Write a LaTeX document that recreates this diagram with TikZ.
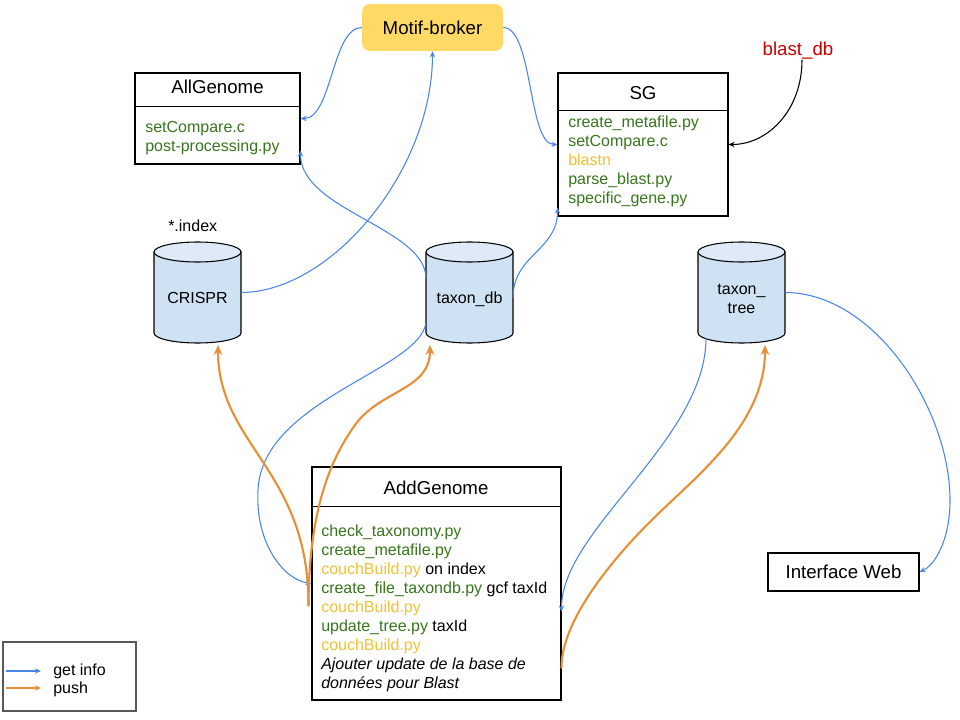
\documentclass[tikz,border=0pt]{standalone}
\usepackage{fontspec}
\setmainfont{Liberation Sans}
\usetikzlibrary{arrows.meta,calc}
\definecolor{infoblue}{HTML}{4A86E8}
\definecolor{pushorange}{HTML}{E69138}
\definecolor{codegreen}{HTML}{38761D}
\definecolor{buildyellow}{HTML}{F1C232}
\definecolor{dbred}{HTML}{CC0000}
\definecolor{mbyellow}{HTML}{FFD966}
\definecolor{cylbody}{HTML}{CFE2F3}
\definecolor{cyltop}{HTML}{DEEAF7}
\definecolor{legendgray}{HTML}{595959}
\tikzset{
  umlbox/.style={draw=black, line width=0.8pt, inner sep=0pt},
  divline/.style={draw=black, line width=0.8pt},
  lbl/.style={inner sep=0pt, font=\fontsize{12}{14.25}\selectfont},
  ttl/.style={inner sep=0pt, font=\fontsize{14}{16.8}\selectfont},
  cylnode/.style={inner sep=0pt, outer sep=0pt, minimum width=65.25pt, minimum height=75.75pt},
  getinfo/.style={draw=infoblue, line width=0.8pt, -{Stealth[length=4.5pt,width=4pt]}},
  pushline/.style={draw=pushorange, line width=1.6pt, line cap=round, -{Stealth[length=7.5pt,width=6.5pt,inset=2.5pt]}},
  pushthin/.style={draw=pushorange, line width=0.8pt, -{Stealth[length=4.5pt,width=4pt]}},
  blastarrow/.style={draw=black, line width=0.8pt, -{Stealth[length=4.5pt,width=4pt]}},
  dbcyl/.pic={
    \fill[cylbody] (0,10) -- (0,91) .. controls (0,96.52) and (19.47,101) .. (43.5,101) .. controls (67.53,101) and (87,96.52) .. (87,91) -- (87,10) -- cycle;
    \draw[line width=0.8pt] (0,10) -- (0,91) .. controls (0,96.52) and (19.47,101) .. (43.5,101) .. controls (67.53,101) and (87,96.52) .. (87,91) -- (87,10);
    \draw[line width=0.8pt, fill=cyltop] (43.5,10) ellipse [x radius=43.5, y radius=10];
  }
}
\begin{document}
\begin{tikzpicture}[x=0.75pt,y=-0.75pt]
\useasboundingbox (0,0) rectangle (960,720);
\fill[white] (0,0) rectangle (960,720);

% Motif-broker
\node[fill=mbyellow, rounded corners=6pt, minimum width=105.75pt, minimum height=35.25pt, inner sep=0pt, font=\fontsize{14}{16.8}\selectfont] (mb) at (432.5,27.5) {Motif-broker};

% AllGenome
\node[umlbox, minimum width=123.75pt, minimum height=68.25pt] (ag) at (217.5,118.5) {};
\draw[divline] ($(ag.north west)+(0,34)$) -- ($(ag.north east)+(0,34)$);
\node[ttl, anchor=base] (agt) at (217.5,94) {AllGenome};
\node[lbl, anchor=base west, text=codegreen] (ag1) at (145,133) {setCompare.c};
\node[lbl, anchor=base west, text=codegreen] (ag2) at (145,152) {post-processing.py};

% SG
\node[umlbox, minimum width=127.5pt, minimum height=107.25pt] (sg) at (643,144.5) {};
\draw[divline] ($(sg.north west)+(0,38)$) -- ($(sg.north east)+(0,38)$);
\node[ttl, anchor=base] (sgt) at (643,99.5) {SG};
\node[lbl, anchor=base west, text=codegreen] (sg1) at (568,128) {create\_metafile.py};
\node[lbl, anchor=base west, text=codegreen] (sg2) at (568,147) {setCompare.c};
\node[lbl, anchor=base west, text=buildyellow] (sg3) at (568,166) {blastn};
\node[lbl, anchor=base west, text=codegreen] (sg4) at (568,185) {parse\_blast.py};
\node[lbl, anchor=base west, text=codegreen] (sg5) at (568,204) {specific\_gene.py};

% blast_db
\node[ttl, anchor=base, text=dbred] (blast) at (798,56) {blast\_db};

% cylinders
\pic at (154,242) {dbcyl};
\pic at (426,242) {dbcyl};
\pic at (698,242) {dbcyl};
\node[cylnode] (crispr) at (197.5,292.5) {};
\node[cylnode] (tdb) at (469.5,292.5) {};
\node[cylnode] (ttree) at (741.5,292.5) {};
\node[lbl, anchor=base] (crisprt) at (197.5,304) {CRISPR};
\node[lbl, anchor=base west] (idx) at (168,232) {*.index};
\node[lbl, anchor=base] (tdbt) at (469.5,304) {taxon\_db};
\node[lbl, anchor=base] (ttreet1) at (741.5,295) {taxon\_};
\node[lbl, anchor=base] (ttreet2) at (741.5,313) {tree};

% AddGenome
\node[umlbox, minimum width=186.75pt, minimum height=174.75pt] (addg) at (436.5,583.5) {};
\draw[divline] ($(addg.north west)+(0,40)$) -- ($(addg.north east)+(0,40)$);
\node[ttl, anchor=base] (addgt) at (436,494) {AddGenome};
\node[lbl, anchor=base west, text=codegreen] (ad1) at (321,536) {check\_taxonomy.py};
\node[lbl, anchor=base west, text=codegreen] (ad2) at (321,555) {create\_metafile.py};
\node[lbl, anchor=base west] (ad3) at (321,574) {\textcolor{buildyellow}{couchBuild.py} on index};
\node[lbl, anchor=base west] (ad4) at (321,593) {\textcolor{codegreen}{create\_file\_taxondb.py} gcf taxId};
\node[lbl, anchor=base west, text=buildyellow] (ad5) at (321,612) {couchBuild.py};
\node[lbl, anchor=base west] (ad6) at (321,631) {\textcolor{codegreen}{update\_tree.py} taxId};
\node[lbl, anchor=base west, text=buildyellow] (ad7) at (321,650) {couchBuild.py};
\node[lbl, anchor=base west] (ad8) at (321,669) {\itshape Ajouter update de la base de};
\node[lbl, anchor=base west] (ad9) at (321,688) {\itshape données pour Blast};

% Interface Web
\node[umlbox, minimum width=113.25pt, minimum height=28.5pt, font=\fontsize{14}{16.8}\selectfont] (iw) at (843.5,572) {Interface Web};

% Legend
\node[draw=legendgray, line width=1.5pt, minimum width=99.75pt, minimum height=51.75pt, inner sep=0pt] (legend) at (69.5,676.5) {};
\coordinate (lgb1) at (6,671);
\coordinate (lgb2) at (41,671);
\coordinate (lgo1) at (6,688);
\coordinate (lgo2) at (41,688);
\draw[getinfo] (lgb1) -- (lgb2);
\draw[pushthin] (lgo1) -- (lgo2);
\node[lbl, anchor=base west] (lgt1) at (53,675) {get info};
\node[lbl, anchor=base west] (lgt2) at (53,693) {push};

% get info connectors
\draw[getinfo] (mb.west) .. controls (332,27.5) and (332,118.5) .. (ag.east);
\draw[getinfo] (mb.east) .. controls (533,27.5) and (528,144.5) .. (sg.west);
\draw[getinfo] (crispr.east) .. controls (331,292.5) and (432.5,171) .. (mb.south);
\draw[getinfo] ($(tdb.west)+(0,-14)$) .. controls (426,228) and (300,210) .. ($(ag.south east)+(0,-14)$);
\draw[getinfo] ($(tdb.east)+(0,5)$) .. controls (513,255) and (558,250) .. ($(sg.south west)+(0,-9)$);
\draw[getinfo] ($(tdb.west)+(0,30)$) .. controls (420,370) and (262,400) .. (258,490) .. controls (255,545) and (285,580) .. (addg.west);
\draw[getinfo] ($(ttree.south west)+(8,-5)$) .. controls (706,440) and (561,530) .. ($(addg.east)+(0,28)$);
\draw[getinfo] (ttree.east) .. controls (875,292.5) and (950,410) .. (950,500) .. controls (950,540) and (935,565) .. (iw.east);

% blast_db connector
\draw[blastarrow] ($(blast.south)+(4,0)$) .. controls (802,110) and (768,144.5) .. (sg.east);

% push connectors
\draw[pushline] ($(addg.west)+(-3,22)$) .. controls (309,470) and (218,445) .. ($(crispr.south)+(20.5,2)$);
\draw[pushline] ($(addg.west)+(-3,22)$) .. controls (309,510) and (330,460) .. (355,425) .. controls (380,390) and (430,390) .. ($(tdb.south)+(-39.5,2)$);
\draw[pushline] ($(addg.east)+(0,84)$) .. controls (561,620) and (615,555) .. (660,512) .. controls (705,469) and (765,420) .. ($(ttree.south)+(23.5,2)$);
\end{tikzpicture}
\end{document}
